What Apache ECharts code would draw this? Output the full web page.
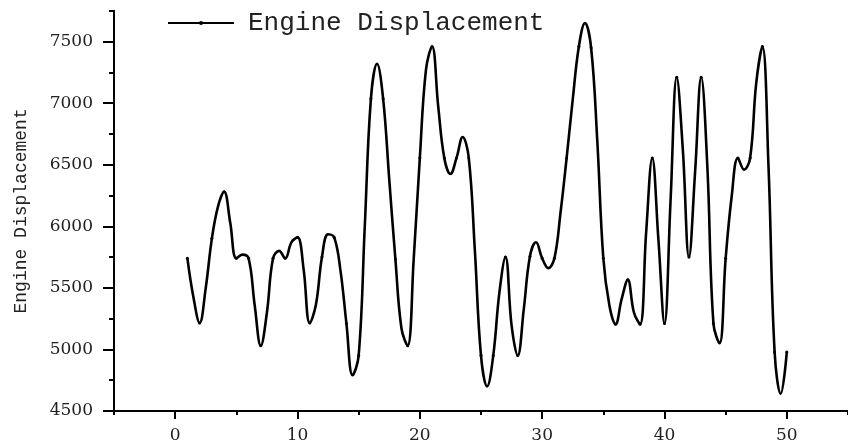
<!DOCTYPE html>
<html>
<head>
<meta charset="utf-8">
<script src="https://cdn.jsdelivr.net/npm/echarts@6/dist/echarts.min.js"></script>
<style>
html,body{margin:0;padding:0;background:#fff;}
#chart{width:848px;height:444px;}
</style>
</head>
<body>
<div id="chart"></div>
<script>
// Data points (x = 1..50)
const xValues = [1,2,3,4,5,6,7,8,9,10,11,12,13,14,15,16,17,18,19,20,21,22,23,24,25,26,27,28,29,30,31,32,33,34,35,36,37,38,39,40,41,42,43,44,45,46,47,48,49,50];
const displacement = [5740,5215,5900,6280,5740,5740,5030,5740,5740,5910,5215,5750,5910,5210,4950,7035,7035,5735,5030,6555,7460,6555,6555,6555,4950,4950,5750,4950,5755,5740,5740,6555,7460,7450,5740,5205,5565,5205,6555,5210,7210,5750,7210,5210,5740,6555,6555,7460,4980,4980];
// Curve readings between markers (x = 1.5 .. 49.5)
const midX = [1.5,2.5,3.5,4.5,5.5,6.5,7.5,8.5,9.5,10.5,11.5,12.5,13.5,14.5,15.5,16.5,17.5,18.5,19.5,20.5,21.5,22.5,23.5,24.5,25.5,26.5,27.5,28.5,29.5,30.5,31.5,32.5,33.5,34.5,35.5,36.5,37.5,38.5,39.5,40.5,41.5,42.5,43.5,44.5,45.5,46.5,47.5,48.5,49.5];
const midCurve = [5420,5500,6160,6030,5770,5360,5300,5800,5870,5650,5360,5935,5650,4790,6000,7320,6380,5170,5735,7270,6975,6425,6725,5800,4700,5460,5195,5330,5870,5660,6110,7030,7650,6705,5355,5410,5300,5950,5895,6220,6620,6440,6490,5050,6250,6460,7165,6490,4640];
const xMajorTicks = [0,10,20,30,40,50];
const yMajorTicks = [4500,5000,5500,6000,6500,7000,7500];
const seriesName = 'Engine Displacement';
const yAxisName = 'Engine Displacement';

const lineData = [];
for (let i = 0; i < xValues.length; i++) {
  lineData.push({ value: [xValues[i], displacement[i]] });
  if (i < midX.length) lineData.push({ value: [midX[i], midCurve[i]], symbol: 'none' });
}

const chart = echarts.init(document.getElementById('chart'), null, { renderer: 'canvas' });
const axisColor = '#000';
const labelFont = { fontFamily: 'DejaVu Serif', fontSize: 17, color: '#222' };
const plain = v => String(v);

chart.setOption({
  animation: false,
  backgroundColor: '#fff',
  grid: { left: 114, right: -9, top: 10.8, bottom: 31.5, containLabel: false },
  legend: {
    show: true,
    left: 167,
    top: 10,
    padding: 0,
    itemWidth: 66,
    itemHeight: 5,
    data: [seriesName],
    textStyle: { fontFamily: 'Liberation Mono', fontSize: 26, color: '#222', padding: [0, 0, 0, 9] }
  },
  xAxis: [
    {
      type: 'value', min: -5, max: 55, interval: 5, position: 'bottom',
      axisLine: { show: true, onZero: false, lineStyle: { color: axisColor, width: 2 } },
      axisTick: { show: true, inside: false, length: 4, lineStyle: { color: axisColor, width: 2 } },
      axisLabel: { show: false },
      splitLine: { show: false }
    },
    {
      type: 'value', min: -5, max: 55, position: 'bottom',
      axisLine: { show: false, onZero: false },
      axisTick: { show: true, inside: false, length: 8, customValues: xMajorTicks, lineStyle: { color: axisColor, width: 2 } },
      axisLabel: { show: true, margin: 16, customValues: xMajorTicks, formatter: plain, ...labelFont },
      splitLine: { show: false }
    }
  ],
  yAxis: [
    {
      type: 'value', min: 4500, max: 7750, interval: 250, position: 'left',
      axisLine: { show: true, onZero: false, lineStyle: { color: axisColor, width: 2 } },
      axisTick: { show: true, inside: false, length: 5, lineStyle: { color: axisColor, width: 2 } },
      axisLabel: { show: false },
      splitLine: { show: false },
      name: yAxisName,
      nameLocation: 'middle',
      nameGap: 84,
      nameRotate: 90,
      nameTextStyle: { fontFamily: 'Liberation Mono', fontSize: 18, color: '#222' }
    },
    {
      type: 'value', min: 4500, max: 7750, position: 'left',
      axisLine: { show: false, onZero: false },
      axisTick: { show: true, inside: false, length: 11, customValues: yMajorTicks, lineStyle: { color: axisColor, width: 2 } },
      axisLabel: { show: true, margin: 21, customValues: yMajorTicks, formatter: plain, ...labelFont },
      splitLine: { show: false }
    }
  ],
  series: [
    {
      name: seriesName,
      type: 'line',
      xAxisIndex: 0,
      yAxisIndex: 0,
      data: lineData,
      smooth: 0.4,
      symbol: 'circle',
      symbolSize: 3,
      showAllSymbol: true,
      color: '#000',
      itemStyle: { color: '#000' },
      lineStyle: { color: '#000', width: 2.6 },
      clip: true
    }
  ]
});
</script>
</body>
</html>
